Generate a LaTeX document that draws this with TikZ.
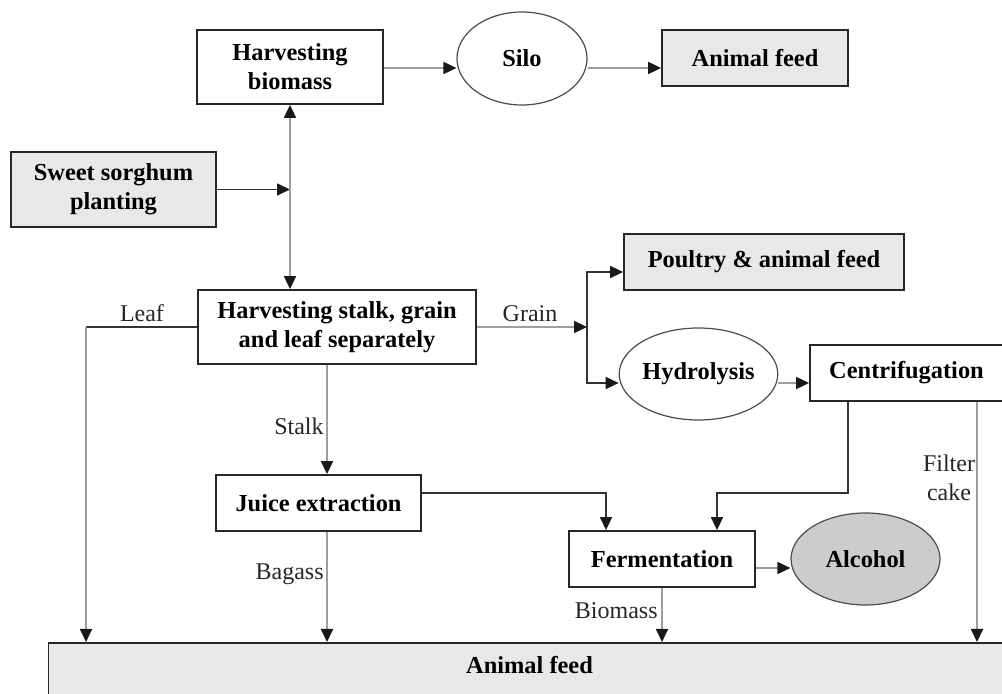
\documentclass[tikz,border=0pt]{standalone}
\usepackage{fontspec}
\setmainfont{Liberation Serif}
\usetikzlibrary{shapes.geometric,arrows.meta}

\begin{document}
\begin{tikzpicture}[x=0.5pt,y=-0.5pt,
  font=\fontsize{12}{14.5}\selectfont,
  >={Triangle[length=6.5pt,width=6pt,color=black!90]},
  box/.style={draw=black!85,line width=0.9pt,align=center,font=\fontsize{12.2}{14.5}\selectfont\bfseries,inner sep=0pt},
  shbox/.style={box,fill=black!9},
  oval/.style={ellipse,draw=black!70,line width=0.6pt,font=\fontsize{12.2}{14.5}\selectfont\bfseries,inner sep=0pt},
  gline/.style={draw=black!38,line width=0.9pt},
  bline/.style={draw=black!80,line width=0.8pt},
  lbl/.style={text=black!85,inner sep=1pt}]

\clip (0,0) rectangle (1002,694);
\fill[white] (0,0) rectangle (1002,694);

\coordinate (leafc) at (86,327);
\coordinate (gj) at (587,327);
\coordinate (stalkx) at (327,0);

\node[box, minimum width=93pt, minimum height=37pt] (hb) at (290,67) {Harvesting\\biomass};
\node[oval, minimum width=65pt, minimum height=46.5pt] (silo) at (522,58.5) {Silo};
\node[shbox, minimum width=93pt, minimum height=28pt] (af1) at (755,58) {Animal feed};
\node[shbox, minimum width=102.5pt, minimum height=37.5pt] (ssp) at (113.5,189.5) {Sweet sorghum\\planting};
\node[box, minimum width=139pt, minimum height=37pt] (hs) at (337,327) {Harvesting stalk, grain\\and leaf separately};
\node[box, minimum width=102.5pt, minimum height=28pt] (je) at (318.5,503) {Juice extraction};
\node[shbox, minimum width=140pt, minimum height=28pt] (paf) at (764,262) {Poultry \& animal feed};
\node[oval, minimum width=74.5pt, minimum height=46pt] (hyd) at (698.5,374) {Hydrolysis};
\node[box, minimum width=96.5pt, minimum height=28pt] (cen) at (906.5,373) {Centrifugation};
\node[box, minimum width=93pt, minimum height=28pt] (fer) at (662,559) {Fermentation};
\node[oval, fill=black!20, minimum width=74.5pt, minimum height=46pt] (alc) at (865.5,559) {Alcohol};
\node[shbox, anchor=north, minimum width=481pt, text height=8.5pt, text depth=20pt, inner ysep=7pt] (af2) at (529.5,642) {Animal feed};

\node[lbl] (leaf) at (142,313) {Leaf};
\node[lbl, anchor=east] (stalk) at (326,426) {Stalk};
\node[lbl, anchor=east] (bagass) at (326,574) {Bagass};
\node[lbl] (grain) at (530,314) {Grain};
\node[lbl, anchor=east] (biomass) at (660,611) {Biomass};
\node[lbl, align=center] (filter) at (949,478) {Filter\\cake};

\draw[gline,->] (hb.east |- 0,68) -- (silo.west |- 0,68);
\draw[gline,->] (silo.east |- 0,68) -- (af1.west |- 0,68);
\draw[bline,->] (ssp.east) -- (ssp.east -| hb.south);
\draw[gline,<->] (hb.south) -- (hb.south |- hs.north);

\draw[bline] (hs.west) -- (leafc);
\draw[gline,->] (leafc) -- (leafc |- af2.north);
\draw[gline,->] (hs.south -| stalkx) -- (je.north -| stalkx);
\draw[gline,->] (je.south -| stalkx) -- (af2.north -| stalkx);

\draw[gline,->] (hs.east) -- (gj);
\draw[bline,<->] (paf.west |- 0,272) -- (gj |- 0,272) -- (gj |- 0,383) -- (hyd.west |- 0,383);
\draw[gline,->] (hyd.east |- 0,383) -- (cen.west |- 0,383);

\draw[bline,->] (cen.south -| 848,0) |- (717,493) -- (fer.north -| 717,0);
\draw[bline,->] (je.east |- 0,493) -| (fer.north -| 606,0);
\draw[gline,->] (fer.east |- 0,568) -- (alc.west |- 0,568);
\draw[gline,->] (fer.south) -- (fer.south |- af2.north);
\draw[gline,->] (cen.south -| 977,0) -- (af2.north -| 977,0);

\end{tikzpicture}
\end{document}
